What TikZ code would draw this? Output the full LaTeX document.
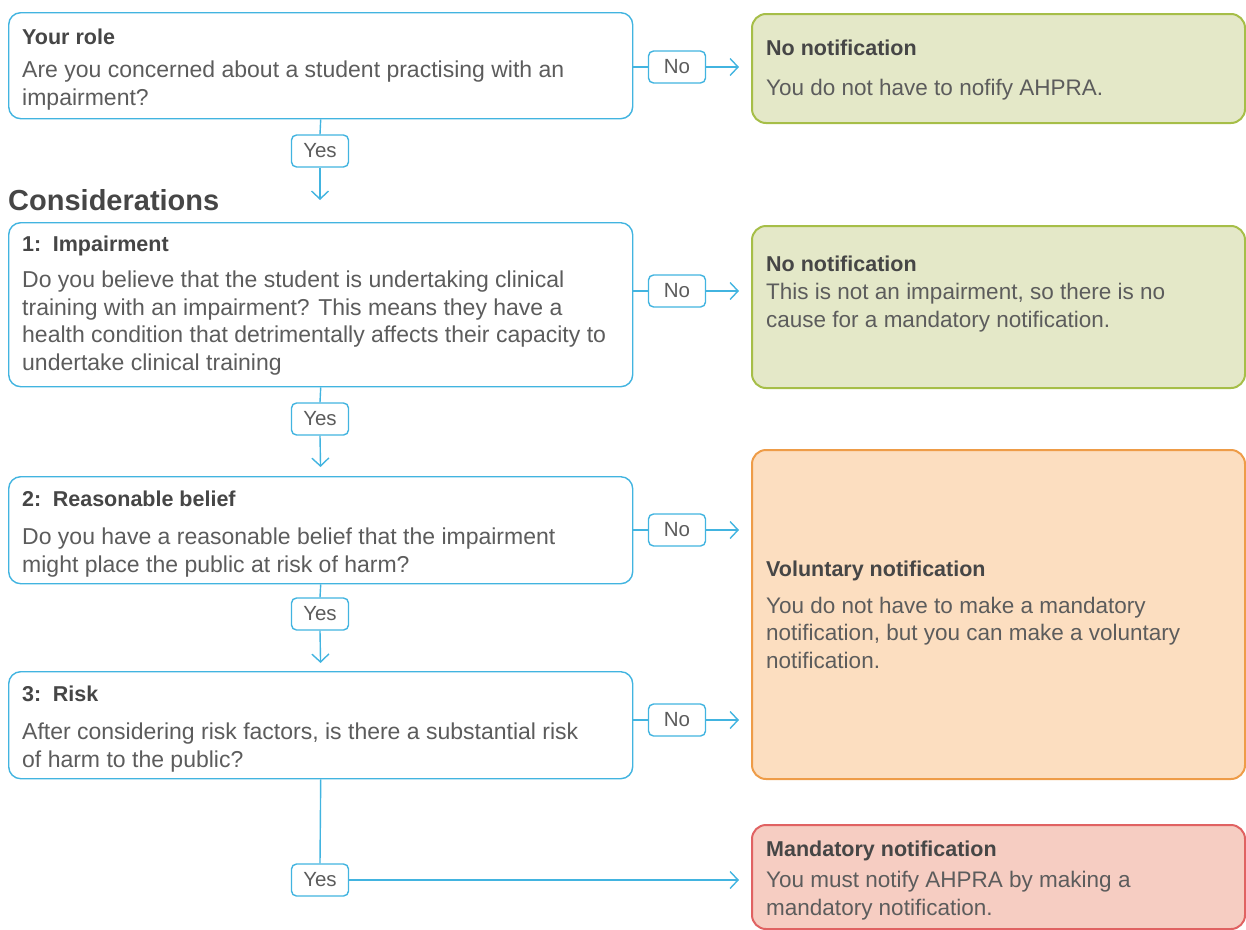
\documentclass[tikz,border=0pt]{standalone}
\usepackage{fontspec}
\setmainfont{Liberation Sans}
\usetikzlibrary{arrows.meta}
\definecolor{lineblue}{HTML}{42B4E0}
\definecolor{txt}{HTML}{5C5C5C}
\definecolor{ttl}{HTML}{464646}
\definecolor{gfill}{HTML}{E4E8C8}
\definecolor{gline}{HTML}{A6BE48}
\definecolor{ofill}{HTML}{FCDEC0}
\definecolor{oline}{HTML}{EE9C48}
\definecolor{rfill}{HTML}{F6CDC2}
\definecolor{rline}{HTML}{E06262}
\tikzset{
  qbox/.style={draw=lineblue, line width=1.4pt, rounded corners=12pt, fill=white, inner sep=0pt, anchor=north west},
  gbox/.style={draw=gline, line width=2pt, rounded corners=14pt, fill=gfill, inner sep=0pt, anchor=north west},
  obox/.style={draw=oline, line width=2pt, rounded corners=14pt, fill=ofill, inner sep=0pt, anchor=north west},
  rbox/.style={draw=rline, line width=2pt, rounded corners=14pt, fill=rfill, inner sep=0pt, anchor=north west},
  ttlt/.style={text=ttl, font=\fontsize{21.5}{26}\selectfont\bfseries, inner sep=0pt, anchor=base west},
  bodyt/.style={text=txt, font=\fontsize{23}{27.5}\selectfont, inner sep=0pt, anchor=base west, align=left},
  cbodyt/.style={text=txt, font=\fontsize{22.5}{27.5}\selectfont, inner sep=0pt, anchor=base west, align=left},
  lbl/.style={draw=lineblue, line width=1.4pt, rounded corners=5pt, fill=white, text=txt, font=\fontsize{20.5}{24}\selectfont, minimum width=57pt, minimum height=32pt, inner sep=0pt},
  conn/.style={draw=lineblue, line width=1.4pt},
  arr/.style={conn, -{Straight Barb[length=8pt, width=17pt, line width=1.4pt]}}
}
\begin{document}
\begin{tikzpicture}[x=1pt, y=-1pt]
\useasboundingbox (0,0) rectangle (1246,929);
% question boxes (body nodes anchored at the baseline of their last line)
\node[qbox, minimum width=624pt, minimum height=106pt] (role) at (8,12) {};
\node[ttlt] (roleT) at (22,44) {Your role};
\node[bodyt] (roleB) at (22,105) {Are you concerned about a student practising with an\\impairment?};
\node[text=ttl, font=\fontsize{29}{32}\selectfont\bfseries, inner sep=0pt, anchor=base west] (cons) at (8,210) {Considerations};
\node[qbox, minimum width=624pt, minimum height=164pt] (q1) at (8,222) {};
\node[ttlt] (q1T) at (22,251) {1:\, Impairment};
\node[bodyt] (q1B) at (22,370) {Do you believe that the student is undertaking clinical\\training with an impairment? This means they have a\\health condition that detrimentally affects their capacity to\\undertake clinical training};
\node[qbox, minimum width=624pt, minimum height=107pt] (q2) at (8,476) {};
\node[ttlt] (q2T) at (22,506) {2:\, Reasonable belief};
\node[bodyt] (q2B) at (22,572) {Do you have a reasonable belief that the impairment\\might place the public at risk of harm?};
\node[qbox, minimum width=624pt, minimum height=107pt] (q3) at (8,671) {};
\node[ttlt] (q3T) at (22,701) {3:\, Risk};
\node[bodyt] (q3B) at (22,767) {After considering risk factors, is there a substantial risk\\of harm to the public?};
% outcome boxes
\node[gbox, minimum width=493pt, minimum height=109pt] (g1) at (751,13) {};
\node[ttlt] (g1T) at (766,55) {No notification};
\node[cbodyt] (g1B) at (766,95) {You do not have to nofify AHPRA.};
\node[gbox, minimum width=493pt, minimum height=162pt] (g2) at (751,225) {};
\node[ttlt] (g2T) at (766,271) {No notification};
\node[cbodyt] (g2B) at (766,327) {This is not an impairment, so there is no\\cause for a mandatory notification.};
\node[obox, minimum width=493pt, minimum height=329pt] (o1) at (751,449) {};
\node[ttlt] (o1T) at (766,576) {Voluntary notification};
\node[cbodyt] (o1B) at (766,668) {You do not have to make a mandatory\\notification, but you can make a voluntary\\notification.};
\node[rbox, minimum width=493pt, minimum height=104pt] (r1) at (751,824) {};
\node[ttlt] (r1T) at (766,856) {Mandatory notification};
\node[cbodyt] (r1B) at (766,915) {You must notify AHPRA by making a\\mandatory notification.};
% labels
\node[lbl] (n1) at (677,67) {No};
\node[lbl] (n2) at (677,291) {No};
\node[lbl] (n3) at (677,530) {No};
\node[lbl] (n4) at (677,720) {No};
\node[lbl] (y1) at (320,151) {Yes};
\node[lbl] (y2) at (320,419) {Yes};
\node[lbl] (y3) at (320,614) {Yes};
\node[lbl] (y4) at (320,880) {Yes};
\coordinate (c1) at (320,200);
% connectors
\draw[conn] (n1.west -| role.east) -- (n1.west);
\draw[arr, shorten >=12pt] (n1.east) -- (n1.east -| g1.west);
\draw[conn] (n2.west -| q1.east) -- (n2.west);
\draw[arr, shorten >=12pt] (n2.east) -- (n2.east -| g2.west);
\draw[conn] (n3.west -| q2.east) -- (n3.west);
\draw[arr, shorten >=12pt] (n3.east) -- (n3.east -| o1.west);
\draw[conn] (n4.west -| q3.east) -- (n4.west);
\draw[arr, shorten >=12pt] (n4.east) -- (n4.east -| o1.west);
\draw[conn] (role.south) -- (y1.north);
\draw[arr] (y1.south) -- (c1);
\draw[conn] (q1.south) -- (y2.north);
\draw[arr, shorten >=9pt] (y2.south) -- (q2.north);
\draw[conn] (q2.south) -- (y3.north);
\draw[arr, shorten >=8pt] (y3.south) -- (q3.north);
\draw[conn] (q3.south) -- (y4.north);
\draw[arr, shorten >=12pt] (y4.east) -- (y4.east -| r1.west);
\end{tikzpicture}
\end{document}
